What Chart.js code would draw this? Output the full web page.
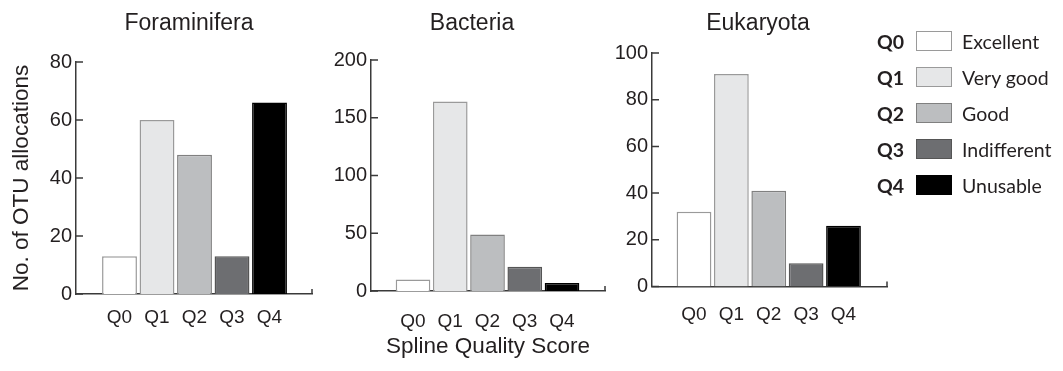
<!DOCTYPE html>
<html>
<head>
<meta charset="utf-8">
<script src="https://cdn.jsdelivr.net/npm/chart.js@4.4.1/dist/chart.umd.min.js"></script>
<style>
  body { margin:0; background:#fff; width:1063px; height:371px; position:relative; overflow:hidden; }
  canvas { position:absolute; top:0; }
  .ptitle { position:absolute; top:9px; width:200px; text-align:center; font-family:"Liberation Sans",Arial,sans-serif; font-size:23px; line-height:26px; color:#231f20; }
  .legend { position:absolute; left:877px; top:23px; font-family:Lato,"Open Sans",sans-serif; font-size:19.5px; color:#231f20; }
  .lg-row { display:flex; align-items:center; height:36px; }
  .lg-q { width:39px; font-weight:700; }
  .lg-box { width:34px; height:18px; border:1.5px solid #8a8a8a; margin-right:10px; }
</style>
</head>
<body>
<canvas id="c-fora" width="330" height="371" style="left:0px"></canvas>
<canvas id="c-bact" width="330" height="371" style="left:290px"></canvas>
<canvas id="c-euk" width="300" height="371" style="left:600px"></canvas>
<div class="ptitle" style="left:89px">Foraminifera</div>
<div class="ptitle" style="left:372px">Bacteria</div>
<div class="ptitle" style="left:658px">Eukaryota</div>
<div class="legend" id="legend"></div>

<script>
// ── data ──
const qLabels  = ['Q0','Q1','Q2','Q3','Q4'];
const qNames   = ['Excellent','Very good','Good','Indifferent','Unusable'];
const foraValues = [13, 60, 48, 13, 66];
const bactValues = [10, 164, 49, 21, 7];
const eukValues  = [32, 91, 41, 10, 26];

const qFills   = ['#ffffff','#e6e7e8','#bcbec0','#6d6e71','#000000'];
const qBorders = ['#9a9a9a','#9a9a9a','#808080','#555555','#000000'];

const FONT = '"Liberation Sans", Arial, sans-serif';
const INK  = '#231f20';
const AXIS = '#3a3a3a';

// small inward tick marks on y axis + closing tick at end of x axis
const innerTicks = {
  id: 'innerTicks',
  afterDraw(chart) {
    const { ctx, chartArea, scales: { y } } = chart;
    ctx.save();
    ctx.strokeStyle = AXIS;
    ctx.lineWidth = 1.5;
    ctx.beginPath();
    y.ticks.forEach(t => {
      const py = y.getPixelForValue(t.value);
      ctx.moveTo(chartArea.left, py);
      ctx.lineTo(chartArea.left + 7, py);
    });
    ctx.moveTo(chartArea.right, chartArea.bottom);
    ctx.lineTo(chartArea.right, chartArea.bottom - 5);
    ctx.stroke();
    ctx.restore();
  }
};

function makePanel(id, o) {
  return new Chart(document.getElementById(id), {
    type: 'bar',
    data: {
      datasets: [{
        data: o.values.map((v, i) => ({ x: i, y: v })),
        backgroundColor: qFills,
        borderColor: qBorders,
        borderWidth: 1.5,
        barPercentage: 0.93,
        categoryPercentage: 1
      }]
    },
    options: {
      responsive: false, animation: false, devicePixelRatio: 1,
      layout: { padding: { left: o.padLeft, right: o.padRight, top: o.padTop, bottom: 0 } },
      plugins: {
        legend: { display: false },
        tooltip: { enabled: false }
      },
      scales: {
        x: {
          type: 'linear', min: o.xMin, max: o.xMax, offset: false,
          grid: { display: false, drawTicks: false },
          border: { display: true, color: AXIS, width: 1.5 },
          ticks: {
            stepSize: 1, includeBounds: false, autoSkip: false, maxRotation: 0,
            padding: o.xTickPad, color: INK, font: { family: FONT, size: 19 },
            callback: v => qLabels[v] ?? ''
          },
          title: o.xTitle ? {
            display: true, text: o.xTitle, color: INK,
            font: { family: FONT, size: 22.5 }, padding: { top: 0, bottom: 10.5 }
          } : { display: false },
          afterFit: s => { s.height = o.xHeight; }
        },
        y: {
          min: 0, max: o.yMax,
          grid: { display: false, drawTicks: false },
          border: { display: true, color: AXIS, width: 1.5 },
          ticks: { stepSize: o.yStep, padding: 4, color: INK, font: { family: FONT, size: 20 } },
          title: o.yTitle ? {
            display: true, text: o.yTitle, color: INK,
            font: { family: FONT, size: 22.5 }, padding: { top: 8.5, bottom: 0 }
          } : { display: false },
          afterFit: s => { s.width = o.yWidth; }
        }
      }
    },
    plugins: [innerTicks]
  });
}

makePanel('c-fora', {
  values: foraValues,
  padLeft: 0, padRight: 18, padTop: 62, yWidth: 76,
  xMin: -1.16, xMax: 5.133, xHeight: 77, xTickPad: 12.6,
  yMax: 80, yStep: 20, yTitle: 'No. of OTU allocations'
});

makePanel('c-bact', {
  values: bactValues,
  padLeft: 39, padRight: 15, padTop: 60, yWidth: 42,
  xMin: -1.128, xMax: 5.154, xHeight: 80, xTickPad: 19.6,
  yMax: 200, yStep: 50, xTitle: 'Spline Quality Score'
});

makePanel('c-euk', {
  values: eukValues,
  padLeft: 10, padRight: 13, padTop: 53, yWidth: 42,
  xMin: -1.124, xMax: 5.164, xHeight: 84.5, xTickPad: 17.1,
  yMax: 100, yStep: 20
});

// ── legend ──
document.getElementById('legend').innerHTML = qLabels.map((q, i) => `
  <div class="lg-row">
    <span class="lg-q">${q}</span>
    <span class="lg-box" style="background:${qFills[i]};border-color:${qBorders[i]}"></span>
    <span>${qNames[i]}</span>
  </div>`).join('');
</script>
</body>
</html>
